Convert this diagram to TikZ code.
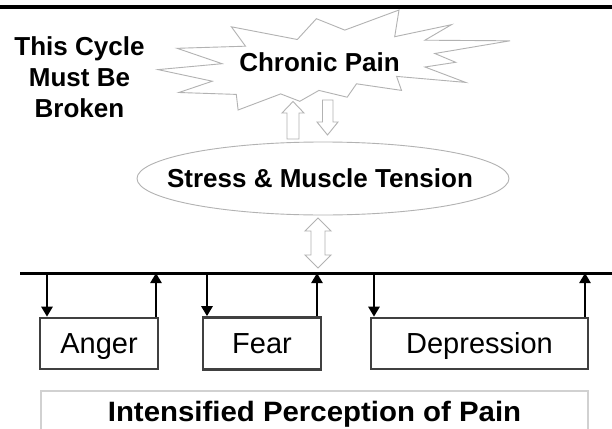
\documentclass[tikz,border=0pt]{standalone}
\usepackage{fontspec}
\setmainfont{Liberation Sans}
\usetikzlibrary{arrows.meta,shapes.geometric}
\begin{document}
\begin{tikzpicture}[x=1pt,y=-1pt,
  softline/.style={draw=gray!60,line width=0.9pt,fill=white},
  boldtext/.style={font=\fontsize{26}{31}\selectfont\bfseries,inner sep=0pt},
  emobox/.style={draw=black!75,line width=2.6pt,fill=white,minimum height=51pt,inner sep=0pt,
    font=\fontsize{29}{34}\selectfont,text height=20.8pt,text depth=0pt},
  link/.style={line width=2.5pt,-{Triangle[length=10pt,width=11pt]}},
]
\useasboundingbox (0,0) rectangle (612,428);
\clip (0,0) rectangle (612,428);
\fill[white] (0,0) rectangle (612,428);
% top rule
\coordinate (tl0) at (0,6.8);
\coordinate (tl1) at (612,6.8);
\draw[line width=3.5pt] (tl0) -- (tl1);
% explosion
\draw[softline] (344.8,30.1) -- (399.0,10) -- (394.7,36.7) -- (451.4,24.7) -- (424.9,40.2)
  -- (510,40.8) -- (434.8,53.5) -- (455.7,62.3) -- (424.9,67.0) -- (465.6,82.4)
  -- (396.6,76.4) -- (401.5,90.4) -- (356.5,83.8) -- (347.2,97.2) -- (318.9,90.4)
  -- (299.8,101.3) -- (280.7,93.9) -- (238.1,110) -- (236.3,94.4) -- (178.9,92.5)
  -- (212.3,81.2) -- (158,69.6) -- (222.1,63.7) -- (177.1,48.3) -- (245.5,46.2)
  -- (231.4,26.8) -- (297.3,39.5) -- (316.4,18.7) -- cycle;
\node[boldtext,text height=18.6pt,text depth=0pt] (pain) at (319.5,62.5) {Chronic Pain};
% side text
\node[boldtext,align=center] (cycle) at (79.5,77) {This Cycle\\Must Be\\Broken};
% block arrows between pain and stress
\draw[softline] (293,101.5) -- (304,113) -- (299,113) -- (299,139) -- (287,139) -- (287,113) -- (282,113) -- cycle;
\draw[softline] (322.5,100) -- (333,100) -- (333,122) -- (338,122) -- (327.5,135) -- (317,122) -- (322.5,122) -- cycle;
% ellipse
\draw[softline] (323,178.5) ellipse [x radius=186, y radius=36.5];
\node[boldtext,text height=18.6pt,text depth=0pt] (stress) at (320,178) {Stress \& Muscle Tension};
% double arrow
\draw[softline] (318,218) -- (331,231) -- (325,231) -- (325,255) -- (331,255) -- (318,268)
  -- (305,255) -- (311,255) -- (311,231) -- (305,231) -- cycle;
% horizontal line
\coordinate (hl0) at (20,273);
\coordinate (hl1) at (612,273);
\draw[line width=3pt] (hl0) -- (hl1);
% boxes
\node[emobox,minimum width=118pt] (anger) at (99,343.5) {Anger};
\node[emobox,minimum width=118pt,minimum height=52pt] (fear) at (262,343.5) {Fear};
\node[emobox,minimum width=217pt] (depr) at (479.5,343.5) {Depression};
% connectors
\coordinate (d1) at (47,273);
\coordinate (u1) at (156,273);
\coordinate (d2) at (207,273);
\coordinate (u2) at (317,273);
\coordinate (d3) at (374,273);
\coordinate (u3) at (585,273);
\draw[link] (d1) -- (d1 |- anger.north);
\draw[link] (u1 |- anger.north) -- (u1);
\draw[link] (d2) -- (d2 |- fear.north);
\draw[link] (u2 |- fear.north) -- (u2);
\draw[link] (d3) -- (d3 |- depr.north);
\draw[link] (u3 |- depr.north) -- (u3);
% bottom box
\node[draw=black!18,line width=1.2pt,minimum width=547pt,minimum height=44pt,inner sep=0pt,
  font=\fontsize{28}{33}\selectfont\bfseries,text height=20pt,text depth=4pt] (ipp) at (314.5,413)
  {\scalebox{1.05}[1]{Intensified Perception of Pain}};
\end{tikzpicture}
\end{document}
